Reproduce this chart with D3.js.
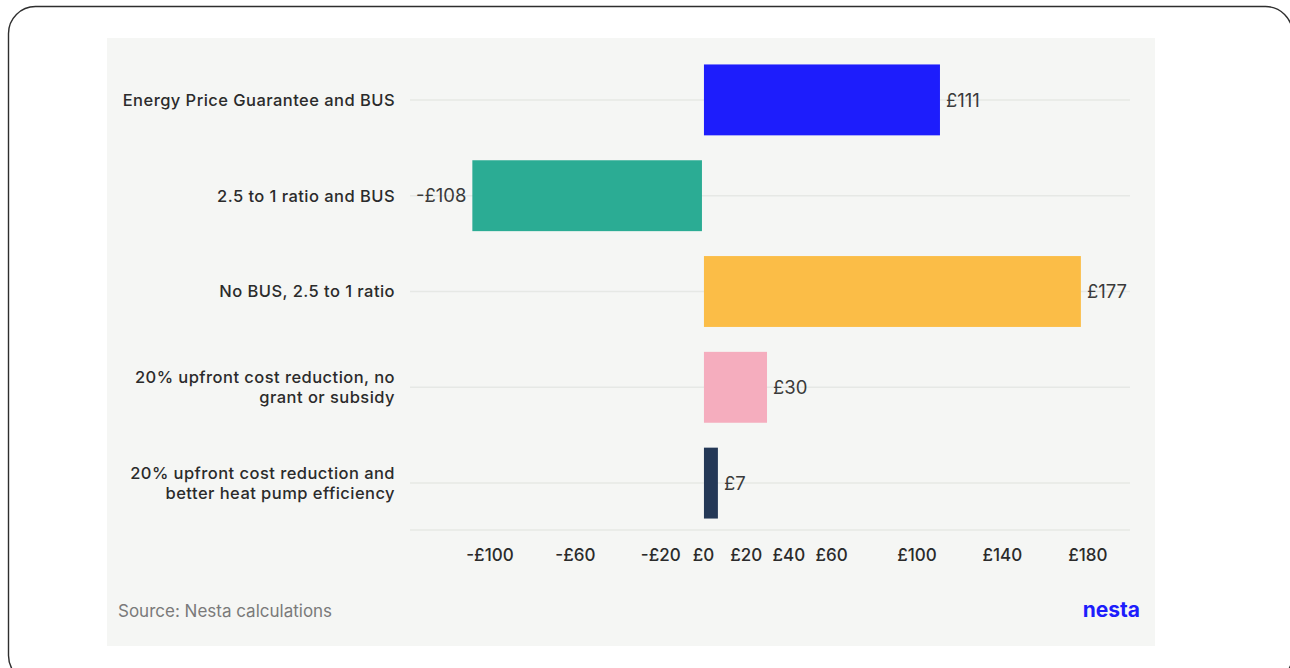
<!DOCTYPE html>
<html>
<head>
<meta charset="utf-8">
<script src="https://cdn.jsdelivr.net/npm/d3@7"></script>
<style>
  html, body { margin: 0; padding: 0; background: #ffffff; }
  svg { display: block; }
  text { font-family: "Inter", "Noto Sans", sans-serif; }
</style>
</head>
<body>
<svg id="chart" width="1290" height="668"></svg>
<script>
// Scenario labels (multi-line where the label wraps)
const scenarios = [
  ["Energy Price Guarantee and BUS"],
  ["2.5 to 1 ratio and BUS"],
  ["No BUS, 2.5 to 1 ratio"],
  ["20% upfront cost reduction, no", "grant or subsidy"],
  ["20% upfront cost reduction and", "better heat pump efficiency"]
];
// Annual change in running cost, £
const values = [111, -108, 177, 30, 7];
const barColors = ["#1d1dfc", "#2bac94", "#fbbd47", "#f5adbe", "#243856"];
const tickValues = [-100, -60, -20, 0, 20, 40, 60, 100, 140, 180];

const svg = d3.select("#chart");

// Outer card with rounded corners
svg.append("rect")
  .attr("x", 8.5).attr("y", 6.5)
  .attr("width", 1284).attr("height", 676)
  .attr("rx", 27).attr("ry", 27)
  .attr("fill", "#ffffff")
  .attr("stroke", "#2e2e2e").attr("stroke-width", 1.4);

// Chart panel
svg.append("rect")
  .attr("x", 107).attr("y", 38)
  .attr("width", 1048).attr("height", 608)
  .attr("fill", "#f5f6f4");

const x = d3.scaleLinear().domain([-137.2, 200]).range([410, 1130]);
const y = d3.scaleBand()
  .domain(d3.range(values.length))
  .range([52, 531])
  .paddingInner(0.26)
  .paddingOuter(0.13);

const money = v => (v < 0 ? "-£" : "£") + Math.abs(v);

// Horizontal guide lines through each row and along the base
const gridG = svg.append("g");
gridG.selectAll("line.row")
  .data(d3.range(values.length))
  .join("line")
  .attr("x1", 410).attr("x2", 1130)
  .attr("y1", i => y(i) + y.bandwidth() / 2)
  .attr("y2", i => y(i) + y.bandwidth() / 2)
  .attr("stroke", "#e6e8e5").attr("stroke-width", 1.5);
gridG.append("line")
  .attr("x1", 410).attr("x2", 1130)
  .attr("y1", 530).attr("y2", 530)
  .attr("stroke", "#e6e8e5").attr("stroke-width", 1.5);

// Bars
svg.append("g").selectAll("rect")
  .data(values)
  .join("rect")
  .attr("x", d => d >= 0 ? x(0) + 1 : x(d))
  .attr("width", d => Math.abs(x(d) - x(0)) - 1)
  .attr("y", (d, i) => y(i))
  .attr("height", y.bandwidth())
  .attr("fill", (d, i) => barColors[i]);

// Value labels
svg.append("g").selectAll("text")
  .data(values)
  .join("text")
  .attr("x", d => d >= 0 ? x(d) + 6 : x(d) - 6)
  .attr("y", (d, i) => y(i) + y.bandwidth() / 2)
  .attr("dy", "0.36em")
  .attr("text-anchor", d => d >= 0 ? "start" : "end")
  .attr("font-size", 18.5)
  .attr("fill", "#3a3a3a")
  .text(money);

// Category labels, one text element per line
const catG = svg.append("g");
scenarios.forEach((lines, i) => {
  const cy = y(i) + y.bandwidth() / 2;
  lines.forEach((ln, j) => {
    catG.append("text")
      .attr("x", 395)
      .attr("y", cy + (j - (lines.length - 1) / 2) * 20)
      .attr("dy", "0.36em")
      .attr("text-anchor", "end")
      .attr("font-size", 16.5)
      .attr("font-weight", 500)
      .attr("letter-spacing", 0.45)
      .attr("fill", "#2b2b2b")
      .text(ln);
  });
});

// X axis
const axis = d3.axisBottom(x).tickValues(tickValues).tickSize(0).tickPadding(0).tickFormat(money);
const axG = svg.append("g").attr("transform", "translate(0,555)").call(axis);
axG.select(".domain").remove();
axG.selectAll("text")
  .attr("dy", "0.36em")
  .attr("font-size", 17)
  .attr("font-weight", 500)
  .attr("font-family", "Inter, 'Noto Sans', sans-serif")
  .attr("fill", "#2b2b2b");

// Footer
svg.append("text")
  .attr("x", 118).attr("y", 611)
  .attr("dy", "0.36em")
  .attr("font-size", 17)
  .attr("fill", "#7a7a7a")
  .text("Source: Nesta calculations");

svg.append("text")
  .attr("x", 1140).attr("y", 609)
  .attr("dy", "0.36em")
  .attr("text-anchor", "end")
  .attr("font-size", 21)
  .attr("font-weight", 700)
  .attr("fill", "#1d1dfc")
  .text("nesta");
</script>
</body>
</html>
